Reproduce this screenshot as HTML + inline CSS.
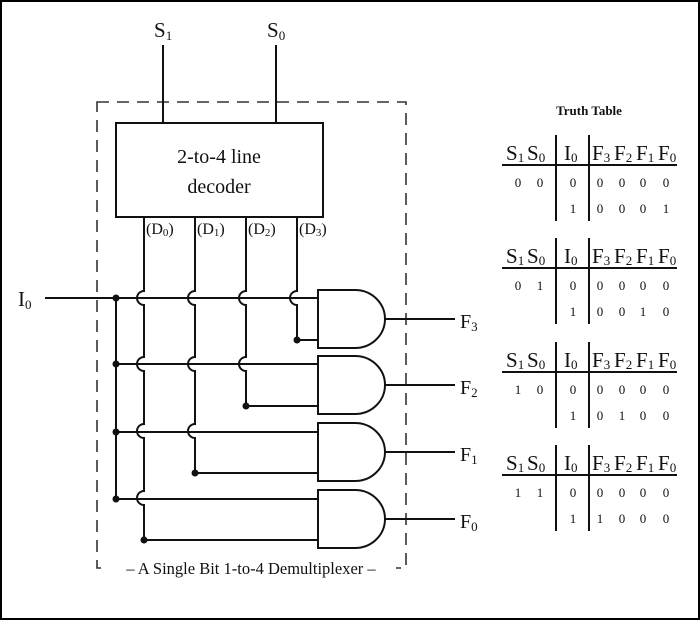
<!DOCTYPE html>
<html><head><style>
html,body{margin:0;padding:0;background:#fff}
svg{display:block}
text{font-family:"Liberation Serif",serif;fill:#111}
</style></head><body>
<svg width="700" height="620" viewBox="0 0 700 620" xmlns="http://www.w3.org/2000/svg">
<rect x="1" y="1" width="698" height="618" fill="#fff" stroke="#000" stroke-width="2"/>
<g stroke="#111" stroke-width="2" fill="none">
<rect x="97" y="102" width="309" height="466" stroke-dasharray="12,8" stroke-width="1.6" stroke="#333"/>
<line x1="163" y1="45" x2="163" y2="123"/>
<line x1="276" y1="45" x2="276" y2="123"/>
<rect x="116" y="123" width="207" height="94" fill="#fff"/>
<line x1="45" y1="298" x2="116" y2="298"/>
<line x1="116" y1="298" x2="116" y2="498"/>
<path d="M144 217 V291 A7 7 0 0 0 144 305 V357 A7 7 0 0 0 144 371 V424 A7 7 0 0 0 144 438 V491 A7 7 0 0 0 144 505 V540 H318"/>
<path d="M195 217 V291 A7 7 0 0 0 195 305 V357 A7 7 0 0 0 195 371 V424 A7 7 0 0 0 195 438 V473 H318"/>
<path d="M246 217 V291 A7 7 0 0 0 246 305 V357 A7 7 0 0 0 246 371 V406 H318"/>
<path d="M297 217 V291 A7 7 0 0 0 297 305 V340 H318"/>
<line x1="116" y1="298" x2="318" y2="298"/>
<line x1="116" y1="364" x2="318" y2="364"/>
<line x1="116" y1="432" x2="318" y2="432"/>
<line x1="116" y1="499" x2="318" y2="499"/>
<path d="M318 290 H355 A30 29 0 0 1 355 348 H318 Z" fill="#fff"/>
<path d="M318 356 H355 A30 29 0 0 1 355 414 H318 Z" fill="#fff"/>
<path d="M318 423 H355 A30 29 0 0 1 355 481 H318 Z" fill="#fff"/>
<path d="M318 490 H355 A30 29 0 0 1 355 548 H318 Z" fill="#fff"/>
<line x1="385" y1="319" x2="455" y2="319"/>
<line x1="385" y1="385" x2="455" y2="385"/>
<line x1="385" y1="452" x2="455" y2="452"/>
<line x1="385" y1="519" x2="455" y2="519"/>
</g>
<g fill="#111">
<circle cx="116" cy="298" r="3.5"/><circle cx="116" cy="364" r="3.5"/>
<circle cx="116" cy="432" r="3.5"/><circle cx="116" cy="499" r="3.5"/>
<circle cx="297" cy="340" r="3.5"/><circle cx="246" cy="406" r="3.5"/>
<circle cx="195" cy="473" r="3.5"/><circle cx="144" cy="540" r="3.5"/>
</g>
<rect x="108" y="558" width="288" height="18" fill="#fff"/>
<text x="251" y="574" font-size="16.5" text-anchor="middle" fill="#333">– A Single Bit 1-to-4 Demultiplexer –</text>
<text x="154" y="37" font-size="21">S<tspan font-size="13" dy="3">1</tspan></text>
<text x="267" y="37" font-size="21">S<tspan font-size="13" dy="3">0</tspan></text>
<text x="219" y="163" font-size="20" text-anchor="middle">2-to-4 line</text>
<text x="219" y="193" font-size="20" text-anchor="middle">decoder</text>
<text x="146" y="234" font-size="16">(D<tspan font-size="11" dy="2">0</tspan><tspan dy="-2">)</tspan></text>
<text x="197" y="234" font-size="16">(D<tspan font-size="11" dy="2">1</tspan><tspan dy="-2">)</tspan></text>
<text x="248" y="234" font-size="16">(D<tspan font-size="11" dy="2">2</tspan><tspan dy="-2">)</tspan></text>
<text x="299" y="234" font-size="16">(D<tspan font-size="11" dy="2">3</tspan><tspan dy="-2">)</tspan></text>
<text x="18" y="306" font-size="21">I<tspan font-size="13" dy="3">0</tspan></text>
<text x="460" y="328" font-size="20">F<tspan font-size="13" dy="3">3</tspan></text>
<text x="460" y="394" font-size="20">F<tspan font-size="13" dy="3">2</tspan></text>
<text x="460" y="461" font-size="20">F<tspan font-size="13" dy="3">1</tspan></text>
<text x="460" y="528" font-size="20">F<tspan font-size="13" dy="3">0</tspan></text>
<text x="589" y="115" font-size="13" font-weight="bold" text-anchor="middle">Truth Table</text>
<defs>
<g id="hdr" text-anchor="start">
<text x="506" y="0" font-size="21">S<tspan font-size="13" dy="2">1</tspan></text>
<text x="527" y="0" font-size="21">S<tspan font-size="13" dy="2">0</tspan></text>
<text x="564" y="0" font-size="21">I<tspan font-size="13" dy="2">0</tspan></text>
<text x="592" y="0" font-size="21">F<tspan font-size="13" dy="2">3</tspan></text>
<text x="614" y="0" font-size="21">F<tspan font-size="13" dy="2">2</tspan></text>
<text x="636" y="0" font-size="21">F<tspan font-size="13" dy="2">1</tspan></text>
<text x="658" y="0" font-size="21">F<tspan font-size="13" dy="2">0</tspan></text>
<line x1="502" y1="5" x2="677" y2="5" stroke="#111" stroke-width="2"/>
<line x1="556" y1="-25" x2="556" y2="61" stroke="#111" stroke-width="2"/>
<line x1="589" y1="-25" x2="589" y2="61" stroke="#111" stroke-width="2"/>
<g text-anchor="middle" font-size="13">
<text x="573" y="27">0</text>
<text x="573" y="53">1</text>
<text x="600" y="27">0</text>
<text x="622" y="27">0</text>
<text x="643" y="27">0</text>
<text x="666" y="27">0</text>
</g>
</g>
</defs>
<use href="#hdr" transform="translate(0,160)"/>
<use href="#hdr" transform="translate(0,263)"/>
<use href="#hdr" transform="translate(0,367)"/>
<use href="#hdr" transform="translate(0,470)"/>
<g font-size="13" text-anchor="middle">
<text x="518" y="187">0</text><text x="540" y="187">0</text>
<text x="600" y="213">0</text><text x="622" y="213">0</text><text x="643" y="213">0</text><text x="666" y="213">1</text>
<text x="518" y="290">0</text><text x="540" y="290">1</text>
<text x="600" y="316">0</text><text x="622" y="316">0</text><text x="643" y="316">1</text><text x="666" y="316">0</text>
<text x="518" y="394">1</text><text x="540" y="394">0</text>
<text x="600" y="420">0</text><text x="622" y="420">1</text><text x="643" y="420">0</text><text x="666" y="420">0</text>
<text x="518" y="497">1</text><text x="540" y="497">1</text>
<text x="600" y="523">1</text><text x="622" y="523">0</text><text x="643" y="523">0</text><text x="666" y="523">0</text>
</g>
</svg>
</body></html>
